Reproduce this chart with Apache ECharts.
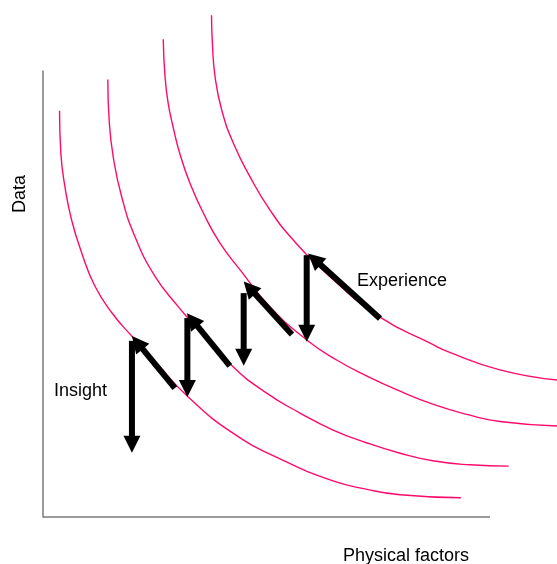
<!DOCTYPE html>
<html>
<head>
<meta charset="utf-8">
<script src="https://cdn.jsdelivr.net/npm/echarts@6/dist/echarts.min.js"></script>
<style>html,body{margin:0;padding:0;background:#fff}#c{width:557px;height:564px}</style>
</head>
<body>
<div id="c"></div>
<script>
// Curves (x, y) in chart units; the drawn axes run 0..100 on both sides
const curve1 = [[3.7,91.1],[4.0,81.5],[4.9,74.1],[6.4,66.6],[8.7,59.1],[11.6,51.8],[15.4,45.8],[20.0,40.4],[25.1,34.8],[32.5,26.9],[42.5,18.8],[53.5,12.8],[64.9,8.1],[72.5,6.2],[79.9,5.0],[93.5,4.3]];
const curve2 = [[14.5,98.1],[14.8,89.0],[15.7,80.8],[17.6,71.8],[20.6,62.8],[25.1,53.9],[30.3,47.1],[32.5,44.6],[42.3,33.9],[49.7,28.0],[57.5,23.3],[64.9,19.5],[72.5,16.6],[79.9,14.3],[87.2,12.6],[95.5,11.7],[104.2,11.4]];
const curve3 = [[26.9,107.1],[27.3,98.7],[28.0,92.8],[29.1,87.5],[30.6,81.5],[32.9,74.8],[35.9,68.1],[39.6,61.4],[44.1,55.4],[50.8,47.1],[59.0,39.7],[65.7,35.2],[72.5,31.6],[79.9,28.2],[87.2,25.3],[94.8,23.0],[102.2,21.4],[115.0,20.4]];
const curve4 = [[37.7,112.5],[37.9,106.2],[38.5,98.7],[40.0,91.2],[42.6,83.8],[46.3,76.3],[50.8,68.8],[56.0,62.1],[64.2,53.9],[75.4,44.8],[86.6,39.0],[91.0,36.9],[102.2,33.0],[115.0,30.7]];
// Arrows: [fromX, fromY, toX, toY]
const arrows = [
  [29.5,28.9,19.9,40.6],
  [19.9,39.5,19.9,14.4],
  [41.8,33.9,32.2,45.7],
  [32.3,44.6,32.3,26.9],
  [55.7,40.9,44.9,52.8],
  [44.9,50.2,44.9,33.9],
  [75.4,44.5,59.3,59.1],
  [59.0,58.7,59.0,39.3]
];
const xAxisLine = [[0,0],[100,0]];
const xAxisTitle = 'Physical factors';
const yAxisTitle = 'Data';
const labelInsight = 'Insight';
const labelExperience = 'Experience';

const chart = echarts.init(document.getElementById('c'));
const curveColor = '#ff0a6c';
function curveSeries(d){
  return {type:'line', data:d, smooth:0.5, symbol:'none', clip:false, silent:true,
    lineStyle:{color:curveColor, width:1.4}};
}
const font = 'Liberation Sans, Arial, sans-serif';
chart.setOption({
  animation:false,
  grid:{left:43, right:0, top:71, bottom:47},
  xAxis:{type:'value', min:0, max:115, axisLine:{show:false},
    axisTick:{show:false}, axisLabel:{show:false}, splitLine:{show:false}},
  yAxis:{type:'value', min:0, max:100, axisLine:{show:true, lineStyle:{color:'#7a7a7a', width:1.5}},
    axisTick:{show:false}, axisLabel:{show:false}, splitLine:{show:false}},
  series:[
    {type:'line', data:xAxisLine, symbol:'none', clip:false, silent:true, z:1,
     lineStyle:{color:'#7a7a7a', width:1.5}},
    curveSeries(curve1), curveSeries(curve2), curveSeries(curve3), curveSeries(curve4),
    {type:'custom', data:arrows, encode:{x:[0,2], y:[1,3]}, clip:false, silent:true, z:5,
     renderItem:function(params, api){
       const p1 = api.coord([api.value(0), api.value(1)]);
       const p2 = api.coord([api.value(2), api.value(3)]);
       const dx = p2[0]-p1[0], dy = p2[1]-p1[1];
       const len = Math.sqrt(dx*dx+dy*dy);
       const ux = dx/len, uy = dy/len;
       const L = 17, W = 8.5;
       const bx = p2[0]-ux*L, by = p2[1]-uy*L;
       return {type:'group', children:[
         {type:'line', shape:{x1:p1[0], y1:p1[1], x2:p2[0]-ux*L*0.6, y2:p2[1]-uy*L*0.6},
          style:{stroke:'#000', lineWidth:6}},
         {type:'polygon', shape:{points:[[p2[0],p2[1]],[bx-uy*W, by+ux*W],[bx+uy*W, by-ux*W]]},
          style:{fill:'#000'}}
       ]};
     }}
  ],
  graphic:[
    {type:'text', x:20, y:194, rotation:Math.PI/2,
     style:{text:yAxisTitle, font:'18px '+font, fill:'#000', align:'center', verticalAlign:'middle'}},
    {type:'text', x:406, y:556, style:{text:xAxisTitle, font:'18px '+font, fill:'#000', align:'center', verticalAlign:'middle'}},
    {type:'text', x:54, y:391, style:{text:labelInsight, font:'18px '+font, fill:'#000', align:'left', verticalAlign:'middle'}},
    {type:'text', x:357, y:281, style:{text:labelExperience, font:'18px '+font, fill:'#000', align:'left', verticalAlign:'middle'}}
  ]
});
</script>
</body>
</html>
